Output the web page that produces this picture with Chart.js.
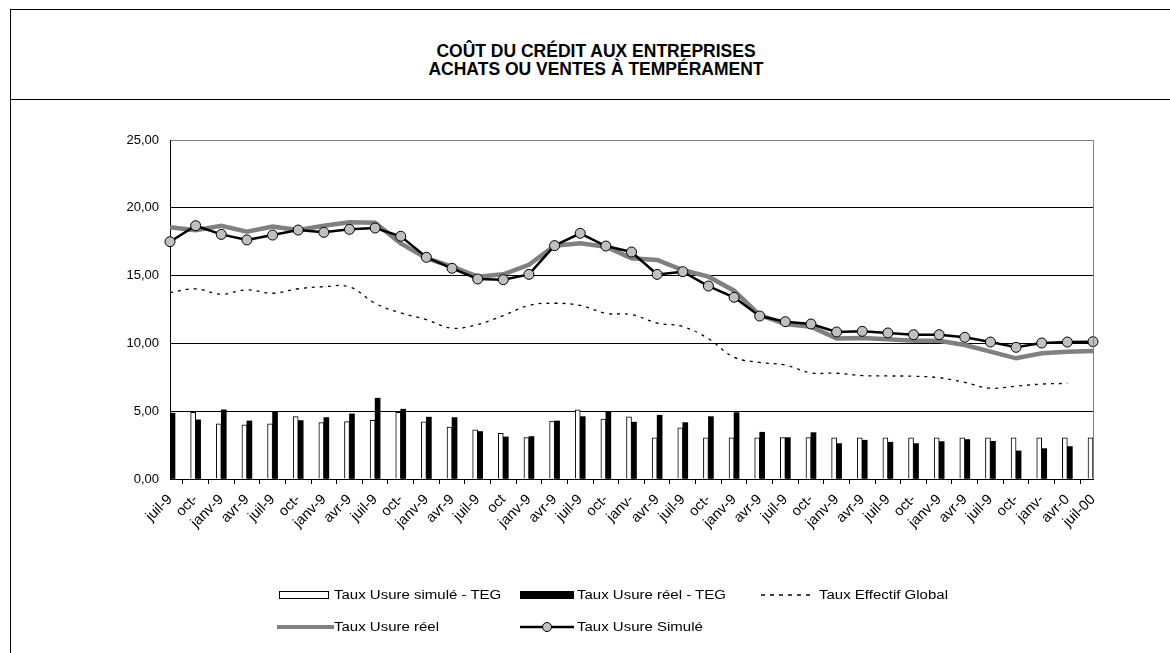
<!DOCTYPE html>
<html>
<head>
<meta charset="utf-8">
<script src="https://cdn.jsdelivr.net/npm/chart.js@4/dist/chart.umd.min.js"></script>
<style>
    body { margin: 0; background: #fff; font-family: "Liberation Sans", Arial, sans-serif; }
    #page { position: relative; width: 1170px; height: 653px; overflow: hidden; }
    #frame { position: absolute; left: 10px; top: 9px; width: 1200px; height: 700px; border-top: 1px solid #000; border-left: 1px solid #000; }
    #titleLine { position: absolute; left: 10px; top: 99px; width: 1200px; border-top: 1px solid #000; }
    #title { position: absolute; left: 10px; width: 1172px; top: 42px; text-align: center; font-weight: bold; font-size: 17.5px; line-height: 18px; color: #000; }
    #chartBox { position: absolute; left: 0; top: 100px; width: 1170px; height: 553px; }
    .lg { position: absolute; font-size: 12.5px; line-height: 16px; color: #000; white-space: nowrap; transform: scaleX(1.2); transform-origin: left center; }
    .sw { position: absolute; }
</style>
</head>
<body>
<div id="page">
    <div id="frame"></div>
    <div id="titleLine"></div>
    <div id="title">COÛT DU CRÉDIT AUX ENTREPRISES<br>ACHATS OU VENTES À TEMPÉRAMENT</div>
    <div id="chartBox"><canvas id="myChart"></canvas></div>

    <!-- legend -->
    <div class="sw" style="left:279px;top:591px;width:48px;height:6px;border:1px solid #000;background:#fff;"></div>
    <div class="lg" style="left:334px;top:587px;">Taux Usure simulé - TEG</div>
    <div class="sw" style="left:520px;top:591px;width:54px;height:8px;background:#000;"></div>
    <div class="lg" style="left:577px;top:587px;">Taux Usure réel - TEG</div>
    <svg class="sw" style="left:761px;top:590px;" width="54" height="10"><line x1="0" y1="5" x2="54" y2="5" stroke="#000" stroke-width="1.5" stroke-dasharray="4,5"/></svg>
    <div class="lg" style="left:819px;top:587px;">Taux Effectif Global</div>
    <div class="sw" style="left:277px;top:625px;width:57px;height:4px;background:#808080;"></div>
    <div class="lg" style="left:334px;top:619px;">Taux Usure réel</div>
    <svg class="sw" style="left:520px;top:621px;" width="54" height="12"><line x1="0" y1="6" x2="54" y2="6" stroke="#000" stroke-width="2.5"/><circle cx="27" cy="6" r="4.5" fill="#c0c0c0" stroke="#000" stroke-width="1"/></svg>
    <div class="lg" style="left:577px;top:619px;">Taux Usure Simulé</div>
</div>

<script>
    "use strict";

    var labels = ['juil-9', 'oct-', 'janv-9', 'avr-9', 'juil-9', 'oct-', 'janv-9', 'avr-9', 'juil-9', 'oct-',
        'janv-9', 'avr-9', 'juil-9', 'oct', 'janv-9', 'avr-9', 'juil-9', 'oct-', 'janv-', 'avr-9',
        'juil-9', 'oct-', 'janv-9', 'avr-9', 'juil-9', 'oct-', 'janv-9', 'avr-9', 'juil-9', 'oct-',
        'janv-9', 'avr-9', 'juil-9', 'oct-', 'janv-', 'avr-0', 'juil-00'];

    var usureSimuleTeg = [3.57, 4.92, 4.06, 3.99, 4.06, 4.60, 4.16, 4.23, 4.33, 4.92,
        4.21, 3.82, 3.62, 3.37, 3.05, 4.28, 5.10, 4.41, 4.58, 3.03,
        3.77, 3.03, 3.03, 3.03, 3.05, 3.05, 3.03, 3.03, 3.03, 3.03,
        3.03, 3.03, 3.03, 3.03, 3.03, 3.03, 3.03];

    var usureReelTeg = [4.85, 4.36, 5.10, 4.28, 4.97, 4.31, 4.53, 4.80, 5.96, 5.15,
        4.56, 4.53, 3.50, 3.10, 3.13, 4.28, 4.60, 4.95, 4.19, 4.70,
        4.16, 4.60, 4.90, 3.45, 3.05, 3.42, 2.61, 2.86, 2.71, 2.61,
        2.76, 2.91, 2.78, 2.07, 2.24, 2.39, null];

    var tauxEffectif = [13.75, 14.02, 13.63, 13.95, 13.70, 14.03, 14.18, 14.17, 12.95, 12.25,
        11.75, 11.12, 11.40, 12.05, 12.80, 12.96, 12.80, 12.22, 12.12, 11.50,
        11.24, 10.35, 8.98, 8.60, 8.40, 7.83, 7.80, 7.63, 7.60, 7.58,
        7.47, 7.12, 6.70, 6.85, 7.00, 7.05, null];

    var usureReel = [18.56, 18.35, 18.68, 18.24, 18.61, 18.36, 18.68, 18.93, 18.90, 17.38,
        16.28, 15.66, 14.92, 15.10, 15.80, 17.20, 17.38, 17.13, 16.28, 16.15,
        15.41, 14.92, 13.89, 12.09, 11.43, 11.23, 10.37, 10.40, 10.30, 10.20,
        10.20, 9.88, 9.39, 8.90, 9.27, 9.39, 9.44];

    var usureSimule = [17.50, 18.68, 18.04, 17.63, 17.99, 18.36, 18.19, 18.41, 18.51, 17.90,
        16.35, 15.54, 14.75, 14.70, 15.09, 17.21, 18.12, 17.18, 16.74, 15.09,
        15.29, 14.23, 13.40, 12.02, 11.60, 11.43, 10.84, 10.89, 10.77, 10.64,
        10.64, 10.45, 10.10, 9.71, 10.03, 10.10, 10.13];

    var yTicks = [0, 5, 10, 15, 20, 25];

    // grey frame on the right side of the plot area
    var plotFrame = {
        id: 'plotFrame',
        afterDraw: function (chart) {
            var a = chart.chartArea, c = chart.ctx;
            c.save();
            c.strokeStyle = '#808080';
            c.lineWidth = 1;
            c.beginPath();
            c.moveTo(a.right + 0.5, a.top);
            c.lineTo(a.right + 0.5, a.bottom);
            c.stroke();
            c.restore();
        }
    };

    Chart.defaults.font.family = '"Liberation Sans", Arial, sans-serif';
    Chart.defaults.color = '#000';

    var ctx = document.getElementById('myChart').getContext('2d');
    var chart = new Chart(ctx, {
        type: 'bar',
        data: {
            labels: labels,
            datasets: [{
                    type: 'line',
                    label: 'Taux Usure Simulé',
                    data: usureSimule,
                    borderColor: '#000',
                    borderWidth: 2.5,
                    pointRadius: 5,
                    pointBackgroundColor: '#c0c0c0',
                    pointBorderColor: '#000',
                    pointBorderWidth: 1,
                    tension: 0,
                    clip: false,
                    order: 0
                },
                {
                    type: 'line',
                    label: 'Taux Usure réel',
                    data: usureReel,
                    borderColor: '#808080',
                    borderWidth: 4.5,
                    pointRadius: 0,
                    tension: 0,
                    order: 1
                },
                {
                    type: 'line',
                    label: 'Taux Effectif Global',
                    data: tauxEffectif,
                    borderColor: '#000',
                    borderWidth: 1.3,
                    borderDash: [3, 5],
                    pointRadius: 0,
                    tension: 0.4,
                    order: 2
                },
                {
                    label: 'Taux Usure simulé - TEG',
                    data: usureSimuleTeg,
                    backgroundColor: '#fff',
                    borderColor: '#000',
                    borderWidth: 1,
                    barThickness: 5,
                    order: 3
                },
                {
                    label: 'Taux Usure réel - TEG',
                    data: usureReelTeg,
                    backgroundColor: '#000',
                    borderColor: '#000',
                    borderWidth: 0,
                    barThickness: 5,
                    order: 4
                }
            ]
        },
        options: {
            responsive: true,
            maintainAspectRatio: false,
            animation: false,
            layout: {
                padding: { left: 0, right: 77, top: 40, bottom: 0 }
            },
            plugins: {
                legend: { display: false },
                title: { display: false },
                tooltip: { enabled: false }
            },
            scales: {
                x: {
                    offset: false,
                    grid: {
                        drawOnChartArea: false,
                        drawTicks: true,
                        tickLength: 5,
                        color: '#000'
                    },
                    border: { color: '#000', width: 1 },
                    ticks: {
                        autoSkip: false,
                        maxRotation: 45,
                        minRotation: 45,
                        padding: 7,
                        font: { size: 14.5 }
                    },
                    afterFit: function (scale) { scale.height = 174; }
                },
                y: {
                    min: 0,
                    max: 25,
                    afterBuildTicks: function (scale) {
                        scale.ticks = yTicks.map(function (v) { return { value: v }; });
                    },
                    grid: {
                        drawTicks: false,
                        color: function (c) { return c.tick && c.tick.value === 25 ? '#808080' : '#000'; }
                    },
                    border: { color: '#000', width: 1 },
                    ticks: {
                        padding: 11,
                        font: { size: 13 },
                        callback: function (v) { return v.toFixed(2).replace('.', ','); }
                    },
                    afterFit: function (scale) { scale.width = 170; }
                }
            }
        },
        plugins: [plotFrame]
    });
</script>
</body>
</html>
